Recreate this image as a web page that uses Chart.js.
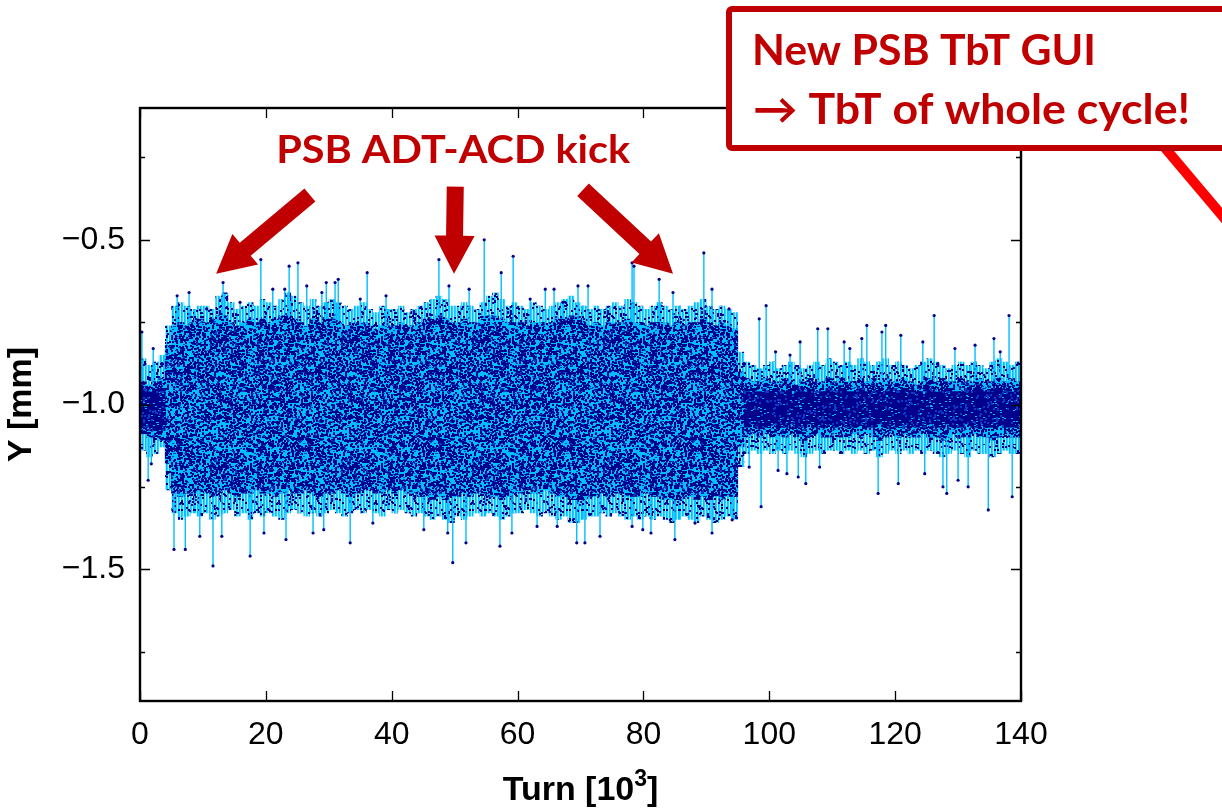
<!DOCTYPE html>
<html>
<head>
<meta charset="utf-8">
<script src="https://cdn.jsdelivr.net/npm/chart.js@4.4.1/dist/chart.umd.min.js"></script>
<style>
  html, body { margin: 0; padding: 0; background: #fff; }
  #wrap { width: 1222px; height: 808px; }
</style>
</head>
<body>
<div id="wrap"><canvas id="c" width="1222" height="808"></canvas></div>
<script>
// ---- Turn-by-turn vertical position, PSB, whole cycle (turns in 10^3) ----

// envelope of the TbT signal, one entry per 1000-turn bin (mm)
const fringeHi = [
  -0.86,-0.88,-0.87,-0.85,-0.76,-0.70,-0.69,-0.70,-0.71,-0.70,
  -0.70,-0.71,-0.67,-0.66,-0.69,-0.71,-0.70,-0.69,-0.70,-0.68,
  -0.69,-0.70,-0.68,-0.66,-0.67,-0.69,-0.70,-0.68,-0.70,-0.69,
  -0.68,-0.69,-0.70,-0.71,-0.70,-0.69,-0.71,-0.72,-0.70,-0.71,
  -0.71,-0.70,-0.72,-0.71,-0.70,-0.69,-0.68,-0.67,-0.68,-0.70,
  -0.70,-0.69,-0.70,-0.71,-0.69,-0.67,-0.66,-0.68,-0.70,-0.69,
  -0.70,-0.71,-0.69,-0.70,-0.71,-0.70,-0.69,-0.68,-0.67,-0.69,
  -0.70,-0.71,-0.70,-0.71,-0.70,-0.69,-0.70,-0.68,-0.69,-0.70,
  -0.71,-0.70,-0.69,-0.70,-0.71,-0.70,-0.71,-0.70,-0.69,-0.68,
  -0.70,-0.71,-0.70,-0.71,-0.72,-0.84,-0.87,-0.88,-0.89,-0.88,
  -0.87,-0.89,-0.88,-0.87,-0.88,-0.89,-0.88,-0.87,-0.88,-0.86,
  -0.87,-0.88,-0.87,-0.88,-0.86,-0.87,-0.88,-0.87,-0.86,-0.88,
  -0.87,-0.88,-0.89,-0.88,-0.87,-0.86,-0.87,-0.88,-0.89,-0.88,
  -0.87,-0.88,-0.87,-0.88,-0.89,-0.87,-0.86,-0.87,-0.88,-0.87
];
const coreHi = [
  -0.93,-0.94,-0.93,-0.92,-0.82,-0.76,-0.75,-0.76,-0.75,-0.74,
  -0.75,-0.74,-0.73,-0.73,-0.75,-0.76,-0.75,-0.74,-0.75,-0.74,
  -0.75,-0.74,-0.73,-0.73,-0.74,-0.75,-0.76,-0.74,-0.75,-0.74,
  -0.74,-0.75,-0.76,-0.76,-0.75,-0.75,-0.76,-0.77,-0.76,-0.76,
  -0.76,-0.75,-0.76,-0.76,-0.75,-0.74,-0.74,-0.73,-0.74,-0.75,
  -0.75,-0.74,-0.75,-0.75,-0.74,-0.73,-0.73,-0.74,-0.75,-0.75,
  -0.75,-0.76,-0.75,-0.75,-0.76,-0.75,-0.74,-0.74,-0.73,-0.74,
  -0.75,-0.76,-0.75,-0.76,-0.75,-0.75,-0.75,-0.74,-0.75,-0.75,
  -0.76,-0.75,-0.75,-0.75,-0.76,-0.75,-0.76,-0.75,-0.75,-0.74,
  -0.75,-0.76,-0.75,-0.76,-0.77,-0.90,-0.92,-0.93,-0.93,-0.92,
  -0.93,-0.93,-0.92,-0.93,-0.94,-0.93,-0.92,-0.93,-0.93,-0.92,
  -0.93,-0.92,-0.93,-0.93,-0.92,-0.93,-0.92,-0.93,-0.92,-0.93,
  -0.93,-0.92,-0.93,-0.94,-0.93,-0.92,-0.93,-0.92,-0.93,-0.93,
  -0.92,-0.93,-0.93,-0.92,-0.93,-0.93,-0.92,-0.93,-0.92,-0.93
];
const coreLo = [
  -1.09,-1.10,-1.10,-1.11,-1.18,-1.27,-1.28,-1.27,-1.27,-1.26,
  -1.27,-1.28,-1.27,-1.26,-1.27,-1.28,-1.27,-1.27,-1.26,-1.27,
  -1.27,-1.28,-1.27,-1.26,-1.27,-1.27,-1.26,-1.27,-1.28,-1.27,
  -1.27,-1.26,-1.27,-1.28,-1.27,-1.26,-1.26,-1.27,-1.27,-1.26,
  -1.27,-1.26,-1.27,-1.27,-1.28,-1.28,-1.29,-1.28,-1.29,-1.28,
  -1.28,-1.27,-1.28,-1.27,-1.27,-1.28,-1.28,-1.29,-1.28,-1.27,
  -1.27,-1.26,-1.27,-1.27,-1.26,-1.27,-1.28,-1.28,-1.29,-1.29,
  -1.29,-1.28,-1.28,-1.27,-1.28,-1.27,-1.27,-1.28,-1.28,-1.28,
  -1.27,-1.28,-1.28,-1.29,-1.29,-1.29,-1.28,-1.28,-1.29,-1.28,
  -1.29,-1.28,-1.29,-1.28,-1.28,-1.13,-1.10,-1.09,-1.10,-1.09,
  -1.10,-1.09,-1.10,-1.09,-1.10,-1.11,-1.10,-1.09,-1.10,-1.10,
  -1.09,-1.10,-1.10,-1.09,-1.10,-1.09,-1.10,-1.11,-1.10,-1.09,
  -1.10,-1.09,-1.10,-1.10,-1.09,-1.10,-1.10,-1.11,-1.10,-1.09,
  -1.10,-1.10,-1.09,-1.10,-1.10,-1.11,-1.10,-1.09,-1.10,-1.10
];
const fringeLo = [
  -1.14,-1.16,-1.15,-1.13,-1.26,-1.33,-1.35,-1.34,-1.33,-1.34,
  -1.33,-1.35,-1.34,-1.33,-1.32,-1.34,-1.33,-1.35,-1.33,-1.34,
  -1.33,-1.34,-1.35,-1.33,-1.32,-1.33,-1.34,-1.33,-1.34,-1.33,
  -1.32,-1.33,-1.34,-1.33,-1.32,-1.33,-1.32,-1.33,-1.34,-1.32,
  -1.33,-1.32,-1.33,-1.34,-1.33,-1.34,-1.35,-1.34,-1.35,-1.36,
  -1.34,-1.35,-1.34,-1.33,-1.34,-1.33,-1.34,-1.35,-1.34,-1.33,
  -1.33,-1.32,-1.33,-1.34,-1.33,-1.34,-1.35,-1.34,-1.36,-1.36,
  -1.35,-1.34,-1.34,-1.33,-1.34,-1.33,-1.34,-1.35,-1.34,-1.35,
  -1.34,-1.35,-1.34,-1.35,-1.36,-1.35,-1.34,-1.35,-1.36,-1.34,
  -1.35,-1.36,-1.35,-1.34,-1.35,-1.19,-1.15,-1.14,-1.15,-1.14,
  -1.15,-1.14,-1.15,-1.14,-1.15,-1.16,-1.15,-1.14,-1.15,-1.14,
  -1.14,-1.15,-1.14,-1.15,-1.14,-1.15,-1.14,-1.16,-1.15,-1.14,
  -1.15,-1.14,-1.15,-1.14,-1.15,-1.14,-1.15,-1.16,-1.15,-1.14,
  -1.15,-1.16,-1.14,-1.15,-1.15,-1.16,-1.15,-1.14,-1.15,-1.15
];

// dense centre of the beam before and after the damper kicks (bins 0-3 and 96-139)
const denseHi = [
  -0.95,-0.96,-0.95,-0.95,
  -0.96,-0.95,-0.96,-0.96,-0.95,-0.96,-0.96,-0.95,-0.96,-0.96,-0.95,
  -0.96,-0.96,-0.95,-0.96,-0.95,-0.96,-0.96,-0.95,-0.96,-0.96,-0.95,
  -0.96,-0.95,-0.96,-0.96,-0.95,-0.96,-0.96,-0.95,-0.96,-0.96,-0.95,
  -0.96,-0.96,-0.95,-0.96,-0.95,-0.96,-0.96,-0.95,-0.96,-0.96,-0.95
];
const denseLo = [
  -1.07,-1.07,-1.08,-1.08,
  -1.07,-1.06,-1.07,-1.07,-1.06,-1.07,-1.07,-1.06,-1.07,-1.07,-1.06,
  -1.07,-1.07,-1.06,-1.07,-1.06,-1.07,-1.07,-1.06,-1.07,-1.07,-1.06,
  -1.07,-1.06,-1.07,-1.07,-1.06,-1.07,-1.07,-1.06,-1.07,-1.07,-1.06,
  -1.07,-1.07,-1.06,-1.07,-1.06,-1.07,-1.07,-1.06,-1.07,-1.07,-1.06
];

// isolated large excursions (turn in 10^3, position in mm)
const spikeUpTurns = [0.3,2.1,5.9,7.8,10.6,13.2,15.9,19.2,21.1,23.0,23.7,25.1,26.5,28.9,29.6,31.0,31.5,35.0,36.1,39.1,
  47.5,49.1,52.3,54.7,57.4,59.3,62.0,64.4,65.8,67.2,69.6,71.2,78.2,78.5,82.5,84.7,89.6,90.9,93.6,
  98.4,99.5,101.0,103.3,104.9,107.7,109.3,111.9,112.8,114.7,115.5,117.9,118.5,120.9,124.4,126.2,129.5,132.7,135.7,136.7,138.1];
const spikeUpVals = [-0.78,-0.83,-0.67,-0.66,-0.71,-0.63,-0.69,-0.56,-0.65,-0.65,-0.58,-0.57,-0.64,-0.66,-0.63,-0.63,-0.62,-0.68,-0.60,-0.67,
  -0.56,-0.64,-0.65,-0.50,-0.60,-0.55,-0.68,-0.65,-0.65,-0.69,-0.64,-0.64,-0.57,-0.58,-0.62,-0.66,-0.54,-0.65,-0.71,
  -0.74,-0.70,-0.84,-0.85,-0.81,-0.77,-0.77,-0.81,-0.83,-0.80,-0.76,-0.78,-0.76,-0.79,-0.81,-0.73,-0.83,-0.82,-0.80,-0.84,-0.73];
const spikeDownTurns = [1.3,1.8,5.4,7.2,9.5,11.6,13.0,17.5,19.7,23.2,27.5,29.2,33.4,37.0,45.1,48.9,49.7,51.8,57.2,59.1,
  63.1,66.3,69.4,70.7,73.1,78.2,79.9,81.2,85.0,88.2,90.9,94.1,
  96.8,98.7,101.4,102.8,104.6,105.8,108.0,117.3,120.5,124.7,127.6,128.2,130.0,131.6,134.8,138.6];
const spikeDownVals = [-1.23,-1.18,-1.44,-1.44,-1.40,-1.49,-1.40,-1.46,-1.39,-1.41,-1.39,-1.38,-1.42,-1.36,-1.38,-1.39,-1.48,-1.42,-1.43,-1.39,
  -1.37,-1.37,-1.42,-1.42,-1.40,-1.37,-1.38,-1.39,-1.41,-1.36,-1.39,-1.35,
  -1.19,-1.31,-1.20,-1.21,-1.22,-1.24,-1.19,-1.27,-1.24,-1.21,-1.25,-1.27,-1.23,-1.25,-1.32,-1.28];

// axes
const xTickValues = [0, 20, 40, 60, 80, 100, 120, 140];
const xTickLabels = ['0', '20', '40', '60', '80', '100', '120', '140'];
const yTickValues = [-1.5, -1.0, -0.5];
const yTickLabels = ['\u22121.5', '\u22121.0', '\u22120.5'];
const yMinorTicks = [-1.75, -1.25, -0.75, -0.25];
const yRange = [-1.9, -0.1];
const xRange = [0, 140];
const spikeBase = -1.0;

// annotation anchors in data units (turn 10^3, mm)
const kickArrows = [
  { from: [27.0, -0.364], to: [12.1, -0.603] },
  { from: [50.1, -0.339], to: [49.9, -0.603] },
  { from: [70.4, -0.348], to: [84.7, -0.603] }
];
const kickLabel = { text: 'PSB ADT-ACD kick', at: [49.6, -0.267] };
const guiLines = ['New PSB TbT GUI', '\u2192 TbT of whole cycle!'];

// ---- textures for the dense point clouds (fixed integer hash, no randomness) ----
const NAVY = '#00008c', CYAN = '#00bfff';
function hash(k) {
  let h = Math.imul(k ^ 0x9e3779b9, 0x85ebca6b);
  h ^= h >>> 13; h = Math.imul(h, 0xc2b2ae35); h ^= h >>> 16;
  return h >>> 0;
}
function cloud(w, h, base, dots, count, seed) {
  const c = document.createElement('canvas');
  c.width = w; c.height = h;
  const g = c.getContext('2d');
  if (base) { g.fillStyle = base; g.fillRect(0, 0, w, h); }
  dots.forEach(([color, size], d) => {
    g.fillStyle = color;
    for (let k = 0; k < count[d]; k++) {
      const px = hash(seed + d * 100003 + k * 2) % w;
      const py = hash(seed + d * 100003 + k * 2 + 1) % h;
      g.fillRect(px, py, size[0], size[1]);
      if (px + size[0] > w) g.fillRect(px - w, py, size[0], size[1]);
      if (py + size[1] > h) g.fillRect(px, py - h, size[0], size[1]);
    }
  });
  return g.createPattern(c, 'repeat');
}
function stripes(w, h, count, seed) {
  const c = document.createElement('canvas');
  c.width = w; c.height = h;
  const g = c.getContext('2d');
  for (let x = 0; x < w; x++) {
    g.fillStyle = x % 3 === 2 ? 'rgba(0,191,255,0.35)' : (x % 3 === 0 ? CYAN : '#33ccff');
    g.fillRect(x, 0, 1, h);
  }
  g.fillStyle = NAVY;
  for (let k = 0; k < count; k++) {
    g.fillRect(hash(seed + k * 2) % w, hash(seed + k * 2 + 1) % h, 2, 2);
  }
  return g.createPattern(c, 'repeat');
}
const coreFill = cloud(131, 127, CYAN, [[NAVY, [2, 2]], ['#0a3cc8', [2, 1]]], [3500, 900], 11);
const denseFill = cloud(131, 127, NAVY, [[CYAN, [2, 1]], ['#0a3cc8', [2, 2]]], [450, 700], 71);
const fringeFill = stripes(97, 89, 500, 301);

// ---- datasets built from the arrays ----
const binCenters = fringeHi.map((_, i) => i + 0.5);
const quietCenters = binCenters.filter((_, i) => i < 4 || i > 95);
const spikeLines = [];
const spikeTips = [];
spikeUpTurns.forEach((t, i) => {
  spikeLines.push({ x: t, y: spikeBase }, { x: t, y: spikeUpVals[i] }, { x: t, y: null });
  spikeTips.push({ x: t, y: spikeUpVals[i] });
});
spikeDownTurns.forEach((t, i) => {
  spikeLines.push({ x: t, y: spikeBase }, { x: t, y: spikeDownVals[i] }, { x: t, y: null });
  spikeTips.push({ x: t, y: spikeDownVals[i] });
});

// ---- frame with inward ticks ----
const framePlugin = {
  id: 'frame',
  afterDatasetsDraw(chart) {
    const { ctx, chartArea: a, scales: { x, y } } = chart;
    ctx.save();
    ctx.strokeStyle = '#000';
    ctx.lineWidth = 1.3;
    ctx.beginPath();
    xTickValues.forEach(v => {
      const px = Math.round(x.getPixelForValue(v)) + 0.5;
      ctx.moveTo(px, a.bottom); ctx.lineTo(px, a.bottom - 10);
      ctx.moveTo(px, a.top); ctx.lineTo(px, a.top + 10);
    });
    yTickValues.forEach(v => {
      const py = Math.round(y.getPixelForValue(v)) + 0.5;
      ctx.moveTo(a.left, py); ctx.lineTo(a.left + 10, py);
      ctx.moveTo(a.right, py); ctx.lineTo(a.right - 10, py);
    });
    yMinorTicks.forEach(v => {
      const py = Math.round(y.getPixelForValue(v)) + 0.5;
      ctx.moveTo(a.left, py); ctx.lineTo(a.left + 5, py);
      ctx.moveTo(a.right, py); ctx.lineTo(a.right - 5, py);
    });
    ctx.stroke();
    ctx.lineWidth = 2.4;
    ctx.strokeRect(a.left, a.top, a.right - a.left, a.bottom - a.top);
    ctx.restore();
  }
};

// ---- titles and call-outs ----
function fitText(ctx, str, x, baseline, width, font) {
  ctx.font = font;
  const w = ctx.measureText(str).width;
  ctx.save();
  ctx.translate(x, baseline);
  ctx.scale(width / w, 1);
  ctx.fillText(str, 0, 0);
  ctx.restore();
}
function arrow(ctx, x0, y0, x1, y1, shaft, headW, headL) {
  const dx = x1 - x0, dy = y1 - y0, L = Math.hypot(dx, dy);
  const ux = dx / L, uy = dy / L, nx = -uy, ny = ux;
  const bx = x1 - ux * headL, by = y1 - uy * headL;
  ctx.beginPath();
  ctx.moveTo(x0 + nx * shaft / 2, y0 + ny * shaft / 2);
  ctx.lineTo(bx + nx * shaft / 2, by + ny * shaft / 2);
  ctx.lineTo(bx + nx * headW / 2, by + ny * headW / 2);
  ctx.lineTo(x1, y1);
  ctx.lineTo(bx - nx * headW / 2, by - ny * headW / 2);
  ctx.lineTo(bx - nx * shaft / 2, by - ny * shaft / 2);
  ctx.lineTo(x0 - nx * shaft / 2, y0 - ny * shaft / 2);
  ctx.closePath();
  ctx.fill();
}
const RED = '#c00000';
const TITLE_FONT = 'bold 34px "Liberation Sans", Arial, sans-serif';
const SUP_FONT = 'bold 23px "Liberation Sans", Arial, sans-serif';
const notesPlugin = {
  id: 'notes',
  afterDraw(chart) {
    const { ctx, scales: { x, y }, chartArea: a } = chart;
    ctx.save();
    // axis titles
    ctx.fillStyle = '#000';
    ctx.textBaseline = 'alphabetic';
    const t1 = 'Turn [10', t2 = '3', t3 = ']';
    ctx.font = TITLE_FONT;
    const w1 = ctx.measureText(t1).width, w3 = ctx.measureText(t3).width;
    ctx.font = SUP_FONT;
    const w2 = ctx.measureText(t2).width;
    const sx = (a.left + a.right) / 2 - (w1 + w2 + w3) / 2;
    const base = 800;
    ctx.font = TITLE_FONT;
    ctx.fillText(t1, sx, base);
    ctx.font = SUP_FONT;
    ctx.fillText(t2, sx + w1, base - 14);
    ctx.font = TITLE_FONT;
    ctx.fillText(t3, sx + w1 + w2, base);

    ctx.save();
    ctx.translate(22, (a.top + a.bottom) / 2);
    ctx.rotate(-Math.PI / 2);
    ctx.textAlign = 'center';
    ctx.textBaseline = 'middle';
    ctx.fillText('Y [mm]', 0, 0);
    ctx.restore();

    // damper kick call-out
    ctx.fillStyle = RED;
    kickArrows.forEach(k => {
      arrow(ctx, x.getPixelForValue(k.from[0]), y.getPixelForValue(k.from[1]),
        x.getPixelForValue(k.to[0]), y.getPixelForValue(k.to[1]), 17, 40, 38);
    });
    ctx.textAlign = 'left';
    const lx = x.getPixelForValue(kickLabel.at[0]), ly = y.getPixelForValue(kickLabel.at[1]);
    fitText(ctx, kickLabel.text, lx - 176, ly, 354, 'bold 39px Lato, "Open Sans", sans-serif');

    // GUI box with pointer line
    ctx.strokeStyle = '#ff0000';
    ctx.lineWidth = 10;
    ctx.beginPath(); ctx.moveTo(1160, 142); ctx.lineTo(1236, 232); ctx.stroke();
    ctx.fillStyle = '#fff';
    ctx.strokeStyle = RED;
    ctx.lineWidth = 6;
    ctx.beginPath(); ctx.roundRect(729, 9, 560, 139, 3); ctx.fill(); ctx.stroke();
    ctx.fillStyle = RED;
    fitText(ctx, guiLines[0], 752, 65, 344, 'bold 42px Lato, "Open Sans", sans-serif');
    fitText(ctx, guiLines[1], 753, 124, 437, 'bold 42px Lato, "Open Sans", "DejaVu Sans", sans-serif');
    ctx.restore();
  }
};

const tickFont = { family: '"Liberation Sans", Arial, sans-serif', size: 32 };

new Chart(document.getElementById('c'), {
  type: 'bar',
  data: {
    datasets: [
      { type: 'line', label: 'tips', data: spikeTips, showLine: false, pointRadius: 1.6,
        pointBorderWidth: 0, pointBackgroundColor: NAVY, order: 0 },
      { label: 'dense', data: quietCenters.map((t, i) => ({ x: t, y: [denseLo[i], denseHi[i]] })),
        backgroundColor: denseFill, grouped: false, barPercentage: 1.1, categoryPercentage: 1, order: 1 },
      { label: 'core', data: binCenters.map((t, i) => ({ x: t, y: [coreLo[i], coreHi[i]] })),
        backgroundColor: coreFill, grouped: false, barPercentage: 1.1, categoryPercentage: 1, order: 2 },
      { type: 'line', label: 'spikes', data: spikeLines, borderColor: CYAN, borderWidth: 1.4,
        pointRadius: 0, spanGaps: false, order: 3 },
      { label: 'fringe', data: binCenters.map((t, i) => ({ x: t, y: [fringeLo[i], fringeHi[i]] })),
        backgroundColor: fringeFill, grouped: false, barPercentage: 1.05, categoryPercentage: 1, order: 4 }
    ]
  },
  options: {
    responsive: false,
    animation: false,
    events: [],
    layout: { padding: { left: 0, top: 108, right: 201, bottom: 0 } },
    plugins: { legend: { display: false }, tooltip: { enabled: false } },
    scales: {
      x: {
        type: 'linear', min: xRange[0], max: xRange[1], offset: false,
        grid: { display: false, drawTicks: false }, border: { display: false },
        afterBuildTicks: s => { s.ticks = xTickValues.map(v => ({ value: v })); },
        afterFit: s => { s.height = 107; },
        ticks: { padding: 15, font: tickFont, color: '#000', maxRotation: 0, autoSkip: false,
          callback: v => { const i = xTickValues.indexOf(v); return i < 0 ? '' : xTickLabels[i]; } }
      },
      y: {
        type: 'linear', min: yRange[0], max: yRange[1],
        grid: { display: false, drawTicks: false }, border: { display: false },
        afterBuildTicks: s => { s.ticks = yTickValues.map(v => ({ value: v })); },
        afterFit: s => { s.width = 140; },
        ticks: { padding: 15, font: tickFont, color: '#000', autoSkip: false,
          callback: v => { const i = yTickValues.indexOf(v); return i < 0 ? '' : yTickLabels[i]; } }
      }
    }
  },
  plugins: [framePlugin, notesPlugin]
});
</script>
</body>
</html>
